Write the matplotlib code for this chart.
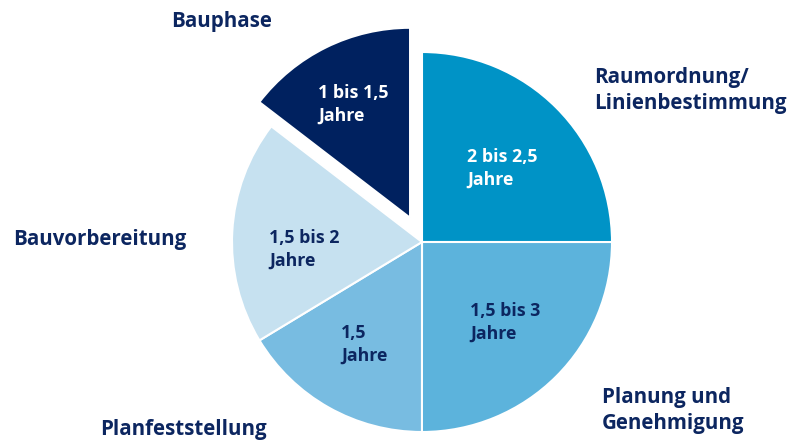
import matplotlib
matplotlib.use('Agg')
from matplotlib import pyplot as plt

plt.rcParams['font.family'] = ['Open Sans', 'DejaVu Sans']

# phases, clockwise from the top
phases = ['Raumordnung/\nLinienbestimmung', 'Planung und\nGenehmigung',
          'Planfeststellung', 'Bauvorbereitung', 'Bauphase']
shares = [25.0, 25.0, 16.33, 19.08, 14.58]
durations = ['2 bis 2,5\nJahre', '1,5 bis 3\nJahre', '1,5\nJahre',
             '1,5 bis 2\nJahre', '1 bis 1,5\nJahre']
explode = [0, 0, 0, 0, 27]

colors = ['#0093c6', '#5cb3dc', '#78bce1', '#c6e1f0', '#00215f']
inner_text = ['white', '#0c2660', '#0c2660', '#0c2660', 'white']
navy = '#0c2660'

W, H = 791, 442
fig = plt.figure(figsize=(W / 100, H / 100), dpi=100)
ax = fig.add_axes([0, 0, 1, 1])

ax.pie(shares, colors=colors, explode=explode, startangle=90, counterclock=False,
       center=(422, H - 242), radius=190,
       wedgeprops=dict(edgecolor='white', linewidth=1.5))
ax.set_xlim(0, W)
ax.set_ylim(0, H)
ax.set_aspect('equal')
ax.axis('off')

# duration labels inside the wedges (pixel positions of line centres)
inner_pos = [(467, 157), (470, 311), (341, 333), (269, 238), (318, 93)]
for txt, (x, y), c in zip(durations, inner_pos, inner_text):
    ax.text(x, H - y, txt.split('\n')[0], color=c, fontsize=12.8,
            fontweight='bold', ha='left', va='center')
    ax.text(x, H - y - 23, txt.split('\n')[1], color=c, fontsize=12.8,
            fontweight='bold', ha='left', va='center')

# phase names around the pie
outer_pos = [(594, 77, 'left'), (602, 397, 'left'), (100, 430, 'left'),
             (13, 240, 'left'), (222, 21, 'center')]
for txt, (x, y, ha) in zip(phases, outer_pos):
    for i, line in enumerate(txt.split('\n')):
        ax.text(x, H - y - 26 * i, line, color=navy, fontsize=14.8,
                fontweight='bold', ha=ha, va='center')

fig.savefig('out.png', dpi=100)
